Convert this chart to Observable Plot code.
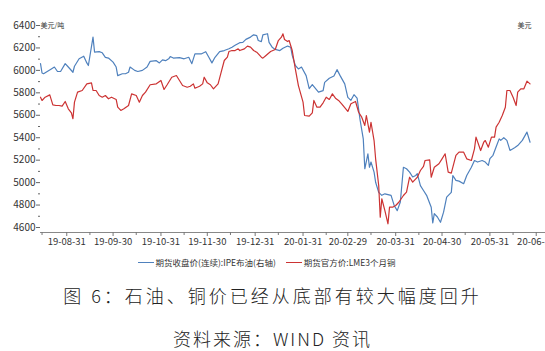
<!DOCTYPE html>
<html><head><meta charset="utf-8">
<script src="https://cdn.jsdelivr.net/npm/d3@7"></script>
<script src="https://cdn.jsdelivr.net/npm/@observablehq/plot@0.6"></script>
<style>
html,body{margin:0;padding:0;background:#fff;}
body{width:545px;height:351px;overflow:hidden;font-family:"Noto Sans CJK SC",sans-serif;}
#chart svg{display:block;}
#legend{height:20px;display:flex;justify-content:center;align-items:center;font-size:8.5px;color:#333;padding-right:12px;gap:10px;}
#legend .item{display:flex;align-items:center;gap:2px;}
#legend .sw{display:inline-block;width:16px;height:0;border-top:1.5px solid;}
#title{height:46px;line-height:46px;text-align:center;font-size:18px;letter-spacing:3px;color:#222;font-weight:300;}
#caption{height:40px;line-height:40px;text-align:center;font-size:18px;letter-spacing:2px;color:#222;font-weight:300;}
</style></head>
<body>
<div id="chart"></div>
<div id="legend"></div>
<div id="title"></div>
<div id="caption"></div>
<script>
// ---- data ----
const seriesNames = ["期货收盘价(连续):IPE布油(右轴)", "期货官方价:LME3个月铜"];
const seriesColors = ["#4f81bd", "#cc3333"];
const leftUnit = "美元/吨";
const rightUnit = "美元";
const titleText = "图 6：石油、铜价已经从底部有较大幅度回升";
const captionText = "资料来源：WIND 资讯";

const brentDates = ["2019-08-14","2019-08-15","2019-08-16","2019-08-21","2019-08-23","2019-08-25","2019-08-27","2019-08-30","2019-09-01","2019-09-04","2019-09-05","2019-09-08","2019-09-11","2019-09-13","2019-09-14","2019-09-17","2019-09-18","2019-09-21","2019-09-23","2019-09-25","2019-09-27","2019-09-30","2019-10-02","2019-10-03","2019-10-06","2019-10-08","2019-10-10","2019-10-11","2019-10-14","2019-10-16","2019-10-19","2019-10-22","2019-10-24","2019-10-28","2019-10-30","2019-11-01","2019-11-03","2019-11-05","2019-11-06","2019-11-08","2019-11-12","2019-11-15","2019-11-18","2019-11-20","2019-11-22","2019-11-26","2019-11-29","2019-12-01","2019-12-03","2019-12-05","2019-12-08","2019-12-11","2019-12-14","2019-12-16","2019-12-18","2019-12-21","2019-12-23","2019-12-25","2019-12-28","2019-12-30","2020-01-01","2020-01-02","2020-01-04","2020-01-05","2020-01-08","2020-01-09","2020-01-11","2020-01-13","2020-01-16","2020-01-18","2020-01-21","2020-01-23","2020-01-24","2020-01-26","2020-01-28","2020-01-30","2020-02-02","2020-02-04","2020-02-06","2020-02-10","2020-02-13","2020-02-14","2020-02-17","2020-02-20","2020-02-22","2020-02-24","2020-02-27","2020-02-29","2020-03-02","2020-03-04","2020-03-06","2020-03-08","2020-03-10","2020-03-11","2020-03-13","2020-03-14","2020-03-15","2020-03-17","2020-03-18","2020-03-20","2020-03-22","2020-03-24","2020-03-28","2020-03-30","2020-04-01","2020-04-03","2020-04-05","2020-04-07","2020-04-09","2020-04-11","2020-04-13","2020-04-14","2020-04-16","2020-04-18","2020-04-20","2020-04-23","2020-04-24","2020-04-25","2020-04-27","2020-04-29","2020-05-01","2020-05-03","2020-05-06","2020-05-07","2020-05-09","2020-05-11","2020-05-14","2020-05-16","2020-05-19","2020-05-21","2020-05-23","2020-05-26","2020-05-28","2020-05-30","2020-05-31","2020-06-02","2020-06-04","2020-06-06","2020-06-07","2020-06-09","2020-06-11","2020-06-13","2020-06-16","2020-06-18","2020-06-21","2020-06-24","2020-06-26"];
const brentValues = [61.8,59.3,59.1,60.4,60.9,59.7,59.7,61.8,60.9,59.5,61.1,63.1,63.8,62.0,61.3,68.9,64.9,65.0,64.7,63.5,63.3,62.2,60.9,58.6,59.1,59.1,59.5,60.9,60.0,59.7,60.0,60.9,62.4,62.6,62.0,62.8,62.6,63.1,63.7,63.3,63.4,63.1,63.5,61.8,64.4,64.4,65.0,63.5,62.0,63.5,65.0,65.3,65.8,66.2,66.7,67.4,67.5,68.3,68.9,69.5,69.3,68.0,67.7,69.5,69.8,67.5,66.2,65.6,65.3,65.9,66.5,66.2,64.0,61.3,60.4,60.9,58.6,55.1,56.2,54.2,54.6,56.8,57.9,58.5,60.2,58.6,56.4,52.8,52.0,53.5,52.6,46.6,41.7,33.7,37.7,34.1,35.5,32.8,30.1,27.4,26.6,27.0,26.6,23.9,22.5,24.8,34.1,33.7,32.8,31.5,31.9,32.4,29.2,27.9,26.6,23.4,19.2,21.7,20.8,19.4,22.1,26.1,27.4,31.9,30.6,30.4,29.7,31.9,34.1,35.9,35.5,35.9,35.5,34.6,36.4,37.3,39.5,41.7,41.3,42.0,41.3,38.6,39.3,39.9,41.3,43.5,40.8];

const copperDates = ["2019-08-14","2019-08-15","2019-08-17","2019-08-20","2019-08-22","2019-08-24","2019-08-26","2019-08-28","2019-08-30","2019-09-01","2019-09-03","2019-09-04","2019-09-05","2019-09-07","2019-09-10","2019-09-13","2019-09-16","2019-09-17","2019-09-19","2019-09-21","2019-09-23","2019-09-25","2019-09-27","2019-09-29","2019-10-02","2019-10-03","2019-10-05","2019-10-07","2019-10-10","2019-10-12","2019-10-15","2019-10-17","2019-10-19","2019-10-21","2019-10-24","2019-10-28","2019-10-31","2019-11-02","2019-11-04","2019-11-07","2019-11-10","2019-11-12","2019-11-14","2019-11-17","2019-11-19","2019-11-21","2019-11-22","2019-11-25","2019-11-27","2019-11-28","2019-11-30","2019-12-02","2019-12-04","2019-12-07","2019-12-09","2019-12-11","2019-12-13","2019-12-14","2019-12-16","2019-12-18","2019-12-20","2019-12-21","2019-12-24","2019-12-26","2019-12-28","2019-12-30","2020-01-01","2020-01-04","2020-01-05","2020-01-07","2020-01-10","2020-01-13","2020-01-15","2020-01-17","2020-01-18","2020-01-19","2020-01-21","2020-01-22","2020-01-24","2020-01-26","2020-01-28","2020-01-31","2020-02-01","2020-02-04","2020-02-06","2020-02-07","2020-02-09","2020-02-11","2020-02-13","2020-02-15","2020-02-17","2020-02-19","2020-02-21","2020-02-23","2020-02-25","2020-02-29","2020-03-02","2020-03-05","2020-03-07","2020-03-09","2020-03-11","2020-03-12","2020-03-14","2020-03-15","2020-03-17","2020-03-18","2020-03-20","2020-03-21","2020-03-22","2020-03-24","2020-03-26","2020-03-27","2020-03-29","2020-03-31","2020-04-02","2020-04-05","2020-04-07","2020-04-09","2020-04-11","2020-04-13","2020-04-14","2020-04-16","2020-04-18","2020-04-19","2020-04-22","2020-04-23","2020-04-25","2020-04-28","2020-04-30","2020-05-02","2020-05-04","2020-05-06","2020-05-09","2020-05-11","2020-05-14","2020-05-16","2020-05-19","2020-05-21","2020-05-22","2020-05-25","2020-05-27","2020-05-28","2020-05-30","2020-06-01","2020-06-03","2020-06-04","2020-06-06","2020-06-08","2020-06-10","2020-06-11","2020-06-13","2020-06-15","2020-06-17","2020-06-18","2020-06-20","2020-06-22","2020-06-24","2020-06-26"];
const copperValues = [5761,5732,5761,5782,5693,5687,5687,5681,5723,5658,5622,5569,5717,5806,5821,5880,5889,5821,5821,5776,5761,5776,5747,5761,5741,5672,5643,5658,5687,5791,5776,5717,5776,5806,5872,5880,5910,5830,5872,5939,5954,5910,5865,5850,5859,5880,5841,5859,5880,5939,5889,5872,5836,5880,5984,6088,6118,6168,6177,6177,6192,6177,6192,6216,6207,6177,6162,6118,6109,6133,6168,6186,6266,6296,6326,6275,6257,6266,6177,6014,5865,5717,5598,5592,5622,5732,5672,5672,5711,5761,5741,5791,5752,5732,5702,5634,5702,5723,5627,5583,5509,5598,5449,5538,5375,5212,4974,4692,4856,4751,4633,4781,4781,4796,4825,4885,4915,5048,5004,5034,5048,5108,5144,5197,5203,5048,5137,5168,5212,5257,5093,5084,5242,5271,5271,5212,5197,5301,5405,5286,5360,5375,5316,5405,5405,5494,5538,5598,5672,5821,5821,5761,5687,5806,5836,5836,5904,5880];

const yTicks = [4600,4800,5000,5200,5400,5600,5800,6000,6200,6400];
const yMinorTicks = [4700,4900,5100,5300,5500,5700,5900,6100,6300];
const xTickDates = ["2019-08-31","2019-09-30","2019-10-31","2019-11-30","2019-12-31","2020-01-31","2020-02-29","2020-03-31","2020-04-30","2020-05-31","2020-06-30"];
const xMinorDates = ["2019-08-15","2019-09-15","2019-10-15","2019-11-15","2019-12-15","2020-01-15","2020-02-15","2020-03-15","2020-04-15","2020-05-15","2020-06-15"];
const xDomain = ["2019-08-14","2020-07-06"];
const leftDomain = [4600, 6400];
const rightDomain = [18, 72]; // implied right-axis (oil, USD) range

// ---- build ----
const parse = d3.utcParse("%Y-%m-%d");
const rightToLeft = d3.scaleLinear(rightDomain, leftDomain);
const brent = brentDates.map((d, i) => ({date: parse(d), value: brentValues[i]}));
const copper = copperDates.map((d, i) => ({date: parse(d), value: copperValues[i]}));

const chart = Plot.plot({
  width: 545,
  height: 252,
  marginLeft: 40,
  marginRight: 0,
  marginTop: 25,
  marginBottom: 20,
  style: {fontFamily: "'Noto Sans CJK SC', sans-serif", fontSize: "10px", color: "#333", background: "#fff"},
  x: {type: "utc", domain: xDomain.map(parse)},
  y: {domain: leftDomain, range: [227, 25]},
  marks: [
    Plot.frame({anchor: "bottom", stroke: "#888"}),
    Plot.axisY({ticks: yTicks, tickFormat: d3.format("d"), tickSize: 4, tickPadding: 1, stroke: "#666", fill: "#333", label: null, fontSize: 10}),
    Plot.axisY({ticks: yMinorTicks, tickSize: 2, tickFormat: () => "", stroke: "#666", label: null}),
    Plot.axisX({ticks: xTickDates.map(parse), tickFormat: d3.utcFormat("%y-%m-%d"), tickSize: 4, tickPadding: 2, stroke: "#777", fill: "#333", label: null, fontSize: 9.5}),
    Plot.axisX({ticks: xMinorDates.map(parse), tickSize: 3, tickFormat: () => "", stroke: "#777", label: null}),
    Plot.text([leftUnit], {frameAnchor: "top-left", textAnchor: "start", lineAnchor: "middle", dx: 0, fontSize: 7, fill: "#333"}),
    Plot.text([rightUnit], {frameAnchor: "top-right", textAnchor: "end", lineAnchor: "middle", dx: -14, fontSize: 7, fill: "#333"}),
    Plot.lineY(brent, {x: "date", y: d => rightToLeft(d.value), stroke: seriesColors[0], strokeWidth: 1.2}),
    Plot.lineY(copper, {x: "date", y: "value", stroke: seriesColors[1], strokeWidth: 1.2})
  ]
});
document.getElementById("chart").appendChild(chart);

const legend = document.getElementById("legend");
seriesNames.forEach((name, i) => {
  const item = document.createElement("span");
  item.className = "item";
  const sw = document.createElement("span");
  sw.className = "sw";
  sw.style.borderTopColor = seriesColors[i];
  const t = document.createElement("span");
  t.textContent = name;
  item.appendChild(sw); item.appendChild(t);
  legend.appendChild(item);
});
document.getElementById("title").textContent = titleText;
document.getElementById("caption").textContent = captionText;
</script>
</body></html>
